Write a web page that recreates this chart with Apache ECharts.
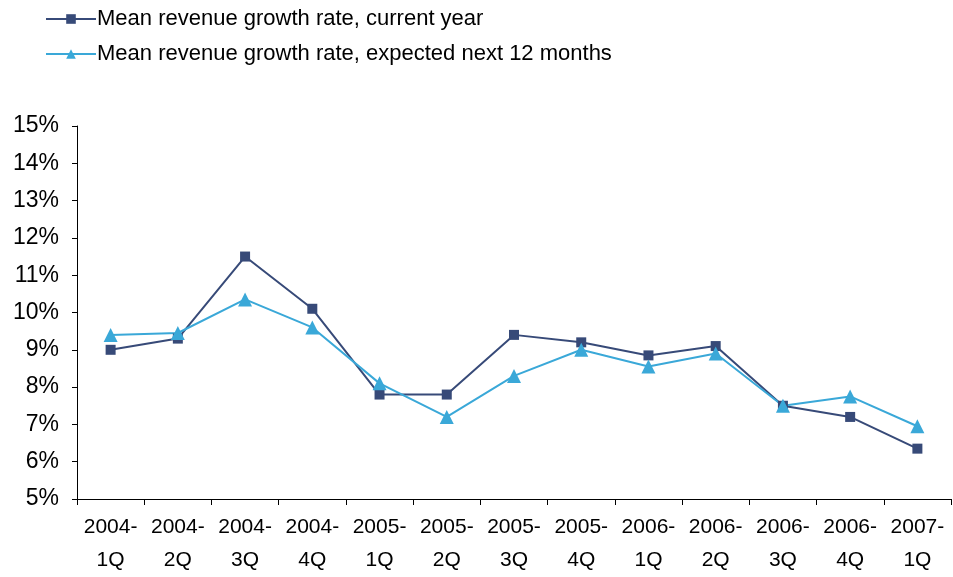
<!DOCTYPE html>
<html><head><meta charset="utf-8">
<script src="https://cdn.jsdelivr.net/npm/echarts@6/dist/echarts.min.js"></script>
<style>html,body{margin:0;padding:0;background:#fff}#c{width:953px;height:577px}</style>
</head><body><div id="c"></div>
<script>
const categories = ['2004-\n1Q','2004-\n2Q','2004-\n3Q','2004-\n4Q','2005-\n1Q','2005-\n2Q','2005-\n3Q','2005-\n4Q','2006-\n1Q','2006-\n2Q','2006-\n3Q','2006-\n4Q','2007-\n1Q'];
const currentYear = [9.0, 9.3, 11.5, 10.1, 7.8, 7.8, 9.4, 9.2, 8.85, 9.1, 7.5, 7.2, 6.35];
const next12Months = [9.4, 9.45, 10.35, 9.6, 8.1, 7.2, 8.3, 9.0, 8.55, 8.9, 7.5, 7.75, 6.95];
const seriesNames = ['Mean revenue growth rate, current year','Mean revenue growth rate, expected next 12 months'];

const chart = echarts.init(document.getElementById('c'));
const font = 'Liberation Sans, Arial, sans-serif';
chart.setOption({
  animation: false,
  textStyle: {fontFamily: font},
  legend: {
    orient: 'vertical', left: 40, top: 3, itemWidth: 50, itemHeight: 12, itemGap: 13,
    textStyle: {fontSize: 22, color: '#000', fontFamily: font, padding: [0,0,0,-4]},
    data: seriesNames
  },
  grid: {left: 77, right: 2, top: 126, bottom: 75, containLabel: false},
  xAxis: {
    type: 'category', data: categories, boundaryGap: true,
    axisLine: {lineStyle: {color: '#000', width: 1}},
    axisTick: {show: true, length: 6, lineStyle: {color: '#000'}, inside: false},
    axisLabel: {fontSize: 21, color: '#000', lineHeight: 33, margin: 12, interval: 0, fontFamily: font}
  },
  yAxis: {
    type: 'value', min: 5, max: 15, interval: 1,
    axisLine: {show: true, lineStyle: {color: '#000', width: 1}},
    axisTick: {show: true, length: 5, lineStyle: {color: '#000'}},
    splitLine: {show: false},
    axisLabel: {formatter: '{value}%', fontSize: 23, color: '#000', margin: 18, fontFamily: font}
  },
  series: [
    {name: seriesNames[0], type: 'line', data: currentYear, symbol: 'rect', symbolSize: 10,
     lineStyle: {color: '#374A78', width: 2}, itemStyle: {color: '#374A78'}},
    {name: seriesNames[1], type: 'line', data: next12Months, symbol: 'triangle', symbolSize: 14,
     lineStyle: {color: '#3AA8D8', width: 2}, itemStyle: {color: '#3AA8D8'}}
  ]
});
</script></body></html>
